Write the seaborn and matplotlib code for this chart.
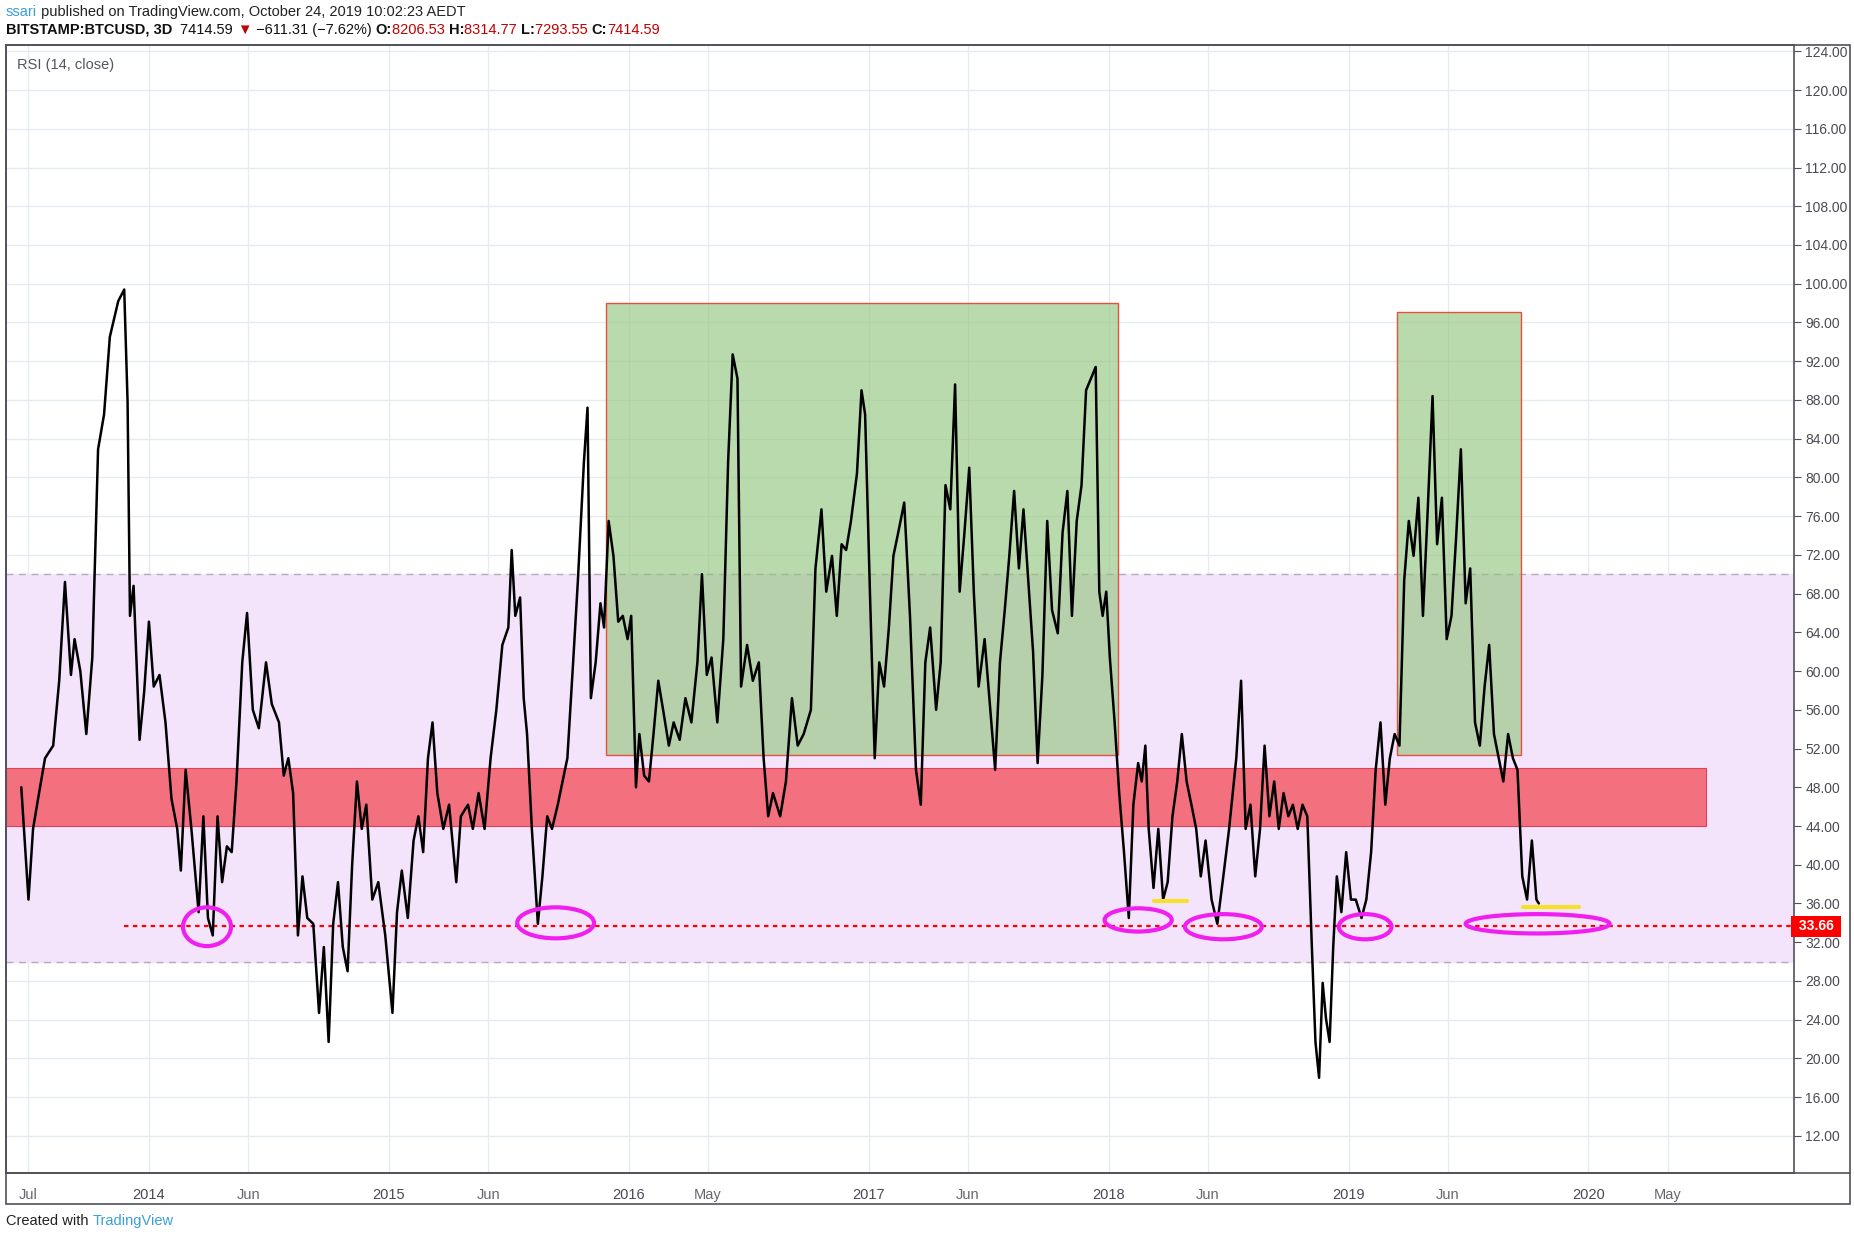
import matplotlib
matplotlib.use("Agg")
import matplotlib.pyplot as plt
from matplotlib.patches import Rectangle, Ellipse
import numpy as np
import pandas as pd
import seaborn as sns

# RSI(14) on 3-day BTCUSD bars (time as decimal year)
t = [2013.468, 2013.498, 2013.517, 2013.542, 2013.567, 2013.601, 2013.626, 2013.650, 2013.675, 2013.690,
     2013.714, 2013.739, 2013.764, 2013.788, 2013.813, 2013.837, 2013.872, 2013.897, 2013.911, 2013.921,
     2013.936, 2013.961, 2013.980, 2014.000, 2014.020, 2014.044, 2014.069, 2014.094, 2014.118, 2014.133,
     2014.153, 2014.177, 2014.207, 2014.227, 2014.246, 2014.266, 2014.286, 2014.305, 2014.325, 2014.345,
     2014.365, 2014.389, 2014.409, 2014.433, 2014.458, 2014.488, 2014.512, 2014.542, 2014.562, 2014.581,
     2014.601, 2014.621, 2014.640, 2014.660, 2014.685, 2014.709, 2014.729, 2014.749, 2014.768, 2014.788,
     2014.808, 2014.828, 2014.847, 2014.867, 2014.887, 2014.906, 2014.931, 2014.956, 2014.985, 2015.015,
     2015.034, 2015.054, 2015.079, 2015.103, 2015.123, 2015.143, 2015.163, 2015.182, 2015.202, 2015.227,
     2015.251, 2015.281, 2015.300, 2015.330, 2015.350, 2015.374, 2015.399, 2015.424, 2015.448, 2015.473,
     2015.498, 2015.512, 2015.527, 2015.547, 2015.562, 2015.576, 2015.596, 2015.621, 2015.640, 2015.660,
     2015.680, 2015.704, 2015.724, 2015.744, 2015.768, 2015.788, 2015.813, 2015.828, 2015.842, 2015.862,
     2015.882, 2015.897, 2015.916, 2015.936, 2015.956, 2015.975, 2015.995, 2016.010, 2016.030, 2016.044,
     2016.064, 2016.084, 2016.103, 2016.123, 2016.143, 2016.167, 2016.187, 2016.212, 2016.236, 2016.261,
     2016.286, 2016.305, 2016.325, 2016.345, 2016.369, 2016.394, 2016.414, 2016.433, 2016.453, 2016.468,
     2016.493, 2016.517, 2016.542, 2016.562, 2016.581, 2016.601, 2016.631, 2016.655, 2016.680, 2016.704,
     2016.729, 2016.759, 2016.778, 2016.803, 2016.823, 2016.847, 2016.867, 2016.887, 2016.906, 2016.926,
     2016.951, 2016.970, 2016.985, 2017.005, 2017.025, 2017.044, 2017.064, 2017.084, 2017.103, 2017.123,
     2017.148, 2017.172, 2017.197, 2017.217, 2017.236, 2017.256, 2017.281, 2017.300, 2017.320, 2017.340,
     2017.360, 2017.379, 2017.399, 2017.419, 2017.438, 2017.458, 2017.483, 2017.507, 2017.527, 2017.547,
     2017.567, 2017.586, 2017.606, 2017.626, 2017.645, 2017.665, 2017.685, 2017.704, 2017.724, 2017.744,
     2017.764, 2017.788, 2017.808, 2017.828, 2017.847, 2017.867, 2017.887, 2017.906, 2017.926, 2017.946,
     2017.961, 2017.975, 2017.990, 2018.005, 2018.025, 2018.044, 2018.064, 2018.084, 2018.103, 2018.123,
     2018.138, 2018.153, 2018.167, 2018.187, 2018.207, 2018.227, 2018.246, 2018.266, 2018.286, 2018.305,
     2018.325, 2018.345, 2018.365, 2018.384, 2018.404, 2018.429, 2018.453, 2018.478, 2018.502, 2018.532,
     2018.552, 2018.571, 2018.591, 2018.611, 2018.631, 2018.650, 2018.670, 2018.690, 2018.709, 2018.729,
     2018.749, 2018.768, 2018.788, 2018.808, 2018.828, 2018.847, 2018.862, 2018.877, 2018.892, 2018.906,
     2018.921, 2018.936, 2018.951, 2018.970, 2018.990, 2019.010, 2019.030, 2019.054, 2019.074, 2019.094,
     2019.113, 2019.133, 2019.153, 2019.172, 2019.192, 2019.212, 2019.232, 2019.251, 2019.271, 2019.291,
     2019.310, 2019.330, 2019.350, 2019.369, 2019.389, 2019.409, 2019.429, 2019.448, 2019.468, 2019.488,
     2019.507, 2019.527, 2019.547, 2019.567, 2019.586, 2019.606, 2019.626, 2019.645, 2019.665, 2019.685,
     2019.704, 2019.724, 2019.744, 2019.764, 2019.783, 2019.793]
rsi = [48, 36.4, 43.7, 47.4, 51, 52.3, 59, 69.2, 59.6, 63.3,
       60, 53.5, 61.4, 82.9, 86.5, 94.5, 98.2, 99.4, 87.8, 65.7,
       68.8, 52.9, 57.8, 65.1, 58.4, 59.6, 54.7, 46.8, 43.7, 39.4,
       49.8, 43.7, 35.1, 45, 34.5, 32.7, 45, 38.2, 41.9, 41.3,
       48.6, 60.9, 66, 56, 54.1, 60.9, 56.6, 54.7, 49.2, 51,
       47.4, 32.7, 38.8, 34.5, 33.9, 24.7, 31.5, 21.7, 33.9, 38.2,
       31.5, 29, 40, 48.6, 43.7, 46.2, 36.4, 38.2, 32.7, 24.7,
       35.1, 39.4, 34.5, 42.5, 45, 41.3, 51, 54.7, 47.4, 43.7,
       46.2, 38.2, 45, 46.2, 43.7, 47.4, 43.7, 51, 56, 62.7,
       64.5, 72.5, 65.7, 67.6, 57.2, 53.5, 43.7, 33.9, 38.8, 45,
       43.7, 46.2, 48.6, 51, 60.9, 69.4, 81.6, 87.2, 57.2, 60.9,
       67, 64.5, 75.5, 71.9, 65.1, 65.7, 63.3, 65.7, 48, 53.5,
       49.2, 48.6, 53.5, 59, 56, 52.3, 54.7, 52.9, 57.2, 54.7,
       60.9, 70, 59.6, 61.4, 54.7, 63.3, 81.6, 92.7, 90.2, 58.4,
       62.7, 59, 60.9, 51, 45, 47.4, 45, 48.6, 57.2, 52.3,
       53.5, 56, 70.6, 76.7, 68.2, 71.9, 65.7, 73.1, 72.5, 75.5,
       80.4, 89, 86.5, 68.2, 51, 60.9, 58.4, 64.5, 71.9, 74.3,
       77.4, 65.7, 49.8, 46.2, 60.9, 64.5, 56, 60.9, 79.2, 76.7,
       89.6, 68.2, 74.3, 81, 68.2, 58.4, 63.3, 56, 49.8, 60.9,
       66.3, 71.9, 78.6, 70.6, 76.7, 69.4, 62, 50.5, 59.6, 75.5,
       66.3, 63.9, 74.3, 78.6, 65.7, 75.5, 79.2, 89, 90.2, 91.4,
       68.2, 65.7, 68.2, 61.4, 54.7, 47.4, 41.3, 34.5, 46.2, 50.5,
       48.6, 52.3, 43.7, 37.6, 43.7, 36.4, 38.2, 45, 48.6, 53.5,
       48.6, 46.2, 43.7, 38.8, 42.5, 36.4, 33.9, 38.8, 43.7, 51,
       59, 43.7, 46.2, 38.8, 43.7, 52.3, 45, 48.6, 43.7, 47.4,
       45, 46.2, 43.7, 46.2, 45, 31.5, 21.7, 18, 27.8, 24.1,
       21.7, 31.5, 38.8, 35.1, 41.3, 36.4, 36.4, 34.5, 36.4, 41.3,
       49.8, 54.7, 46.2, 51, 53.5, 52.3, 69.4, 75.5, 71.9, 77.9,
       65.7, 76.7, 88.4, 73.1, 77.9, 63.3, 65.7, 73.7, 82.9, 67,
       70.6, 54.7, 52.3, 58.4, 62.7, 53.5, 51, 48.6, 53.5, 51,
       49.8, 38.8, 36.4, 42.5, 36.4, 36]

tick_pos = [2013.496, 2014.0, 2014.414, 2015.0, 2015.414, 2016.0, 2016.33, 2017.0,
            2017.414, 2018.0, 2018.414, 2019.0, 2019.414, 2020.0, 2020.33]
tick_lab = ["Jul", "2014", "Jun", "2015", "Jun", "2016", "May", "2017",
            "Jun", "2018", "Jun", "2019", "Jun", "2020", "May"]
y_ticks = list(range(12, 125, 4))

# annotations drawn on the chart (time, value)
boxes = [(2015.906, 2018.040, 51.3, 98.0), (2019.202, 2019.719, 51.3, 97.1)]
circles = [(2014.242, 33.6, 0.10, 2.0), (2015.695, 34.0, 0.16, 1.6), (2018.123, 34.3, 0.14, 1.2),
           (2018.478, 33.6, 0.16, 1.3), (2019.069, 33.6, 0.11, 1.3), (2019.788, 33.9, 0.30, 1.0)]
yellow = [(2018.187, 2018.325, 36.3), (2019.729, 2019.960, 35.6)]
support = 33.66

FONT = "Liberation Sans"
sns.set_style("white")
plt.rcParams["font.family"] = FONT
fig = plt.figure(figsize=(18.54, 12.37), dpi=100)
ax = fig.add_axes([0.0032, 0.052, 0.9645, 0.912])

df = pd.DataFrame({"t": t, "rsi": rsi})
x0, x1 = 2013.404, 2020.857
ax.set_xlim(x0, x1)
ax.set_ylim(8.2, 124.7)

for p in tick_pos:
    ax.axvline(p, color="#e4ecf2", lw=1, zorder=0)
for v in y_ticks:
    ax.axhline(v, color="#e4ecf2", lw=1, zorder=0)

ax.axhspan(30, 70, color="#f3e4fc", zorder=1)
ax.axhline(70, color="#b9a9b9", lw=1, ls=(0, (5, 4)), zorder=1)
ax.axhline(30, color="#b9a9b9", lw=1, ls=(0, (5, 4)), zorder=1)
ax.add_patch(Rectangle((x0, 44), 2020.488 - x0, 6, facecolor="#f3707f", edgecolor="#e0405a",
                       lw=0.8, zorder=2))
for a, b, lo, hi in boxes:
    ax.add_patch(Rectangle((a, lo), b - a, hi - lo, facecolor="#8fc47a", alpha=0.62,
                           edgecolor="none", zorder=2))
    ax.add_patch(Rectangle((a, lo), b - a, hi - lo, facecolor="none", edgecolor="#e8503c",
                           lw=1, zorder=2))

ax.plot([2013.897, x1], [support, support], color="#ff0000", lw=1.6, ls=(0, (2, 2)), zorder=3)
sns.lineplot(data=df, x="t", y="rsi", color="black", lw=1.8, ax=ax, zorder=4)

for cx, cy, w, h in circles:
    ax.add_patch(Ellipse((cx, cy), w * 2, h * 2, facecolor="none", edgecolor="#f01ff0",
                         lw=3, zorder=5))
for a, b, v in yellow:
    ax.plot([a, b], [v, v], color="#f5e02a", lw=3, zorder=5)

ax.yaxis.tick_right()
ax.set_yticks(y_ticks)
ax.set_yticklabels([f"{v:.2f}" for v in y_ticks], color="#4a4a55", fontsize=10)
ax.set_xticks(tick_pos)
ax.set_xticklabels(tick_lab, fontsize=10.5)
for lab, txt in zip(ax.get_xticklabels(), tick_lab):
    lab.set_color("#4a4a55" if txt.isdigit() else "#666670")
ax.tick_params(axis="x", length=5, color="#50505a", pad=6)
ax.tick_params(axis="y", length=5, color="#50505a", pad=3)
ax.set_xlabel("")
ax.set_ylabel("")
for s in ax.spines.values():
    s.set_color("#50505a")
    s.set_linewidth(1.2)

ax.text(x1 + 0.003, support, " 33.66 ", transform=ax.transData, ha="left", va="center",
        color="white", fontsize=10, fontweight="bold", clip_on=False,
        bbox=dict(boxstyle="square,pad=0.25", facecolor="#ff0000", edgecolor="none"))
ax.text(0.006, 0.988, "RSI (14, close)", transform=ax.transAxes, fontsize=10.5, color="#555560",
        va="top")

# outer frame of the chart, including price scale and time scale
fig.add_artist(Rectangle((0.0032, 0.027), 0.9946, 0.937, transform=fig.transFigure,
                         facecolor="none", edgecolor="#50505a", lw=1.2))
fig.add_artist(plt.Line2D([0.0032, 0.9978], [0.052, 0.052], transform=fig.transFigure,
                          color="#50505a", lw=1.2))


def text_run(parts, x, y):
    # place text pieces one after another on a line
    r = fig.canvas.get_renderer()
    for s, color, weight in parts:
        tx = fig.text(x, y, s, color=color, fontweight=weight, fontsize=10.5, va="center")
        bb = tx.get_window_extent(renderer=r)
        x += bb.width / fig.bbox.width


text_run([("ssari", "#3a9fd8", "normal"),
          (" published on TradingView.com, October 24, 2019 10:02:23 AEDT", "#222222", "normal")],
         0.003, 0.990)
text_run([("BITSTAMP:BTCUSD, 3D  ", "#111111", "bold"), ("7414.59 ", "#111111", "normal"),
          ("\u25bc", "#c00000", "normal"), (" \u2212611.31 (\u22127.62%) ", "#111111", "normal"),
          ("O:", "#111111", "bold"), ("8206.53 ", "#c00000", "normal"),
          ("H:", "#111111", "bold"), ("8314.77 ", "#c00000", "normal"),
          ("L:", "#111111", "bold"), ("7293.55 ", "#c00000", "normal"),
          ("C:", "#111111", "bold"), ("7414.59", "#c00000", "normal")], 0.003, 0.976)
text_run([("Created with ", "#222222", "normal"), ("TradingView", "#3a9fd8", "normal")],
         0.003, 0.013)

fig.savefig("out.png", dpi=100, facecolor="white")
